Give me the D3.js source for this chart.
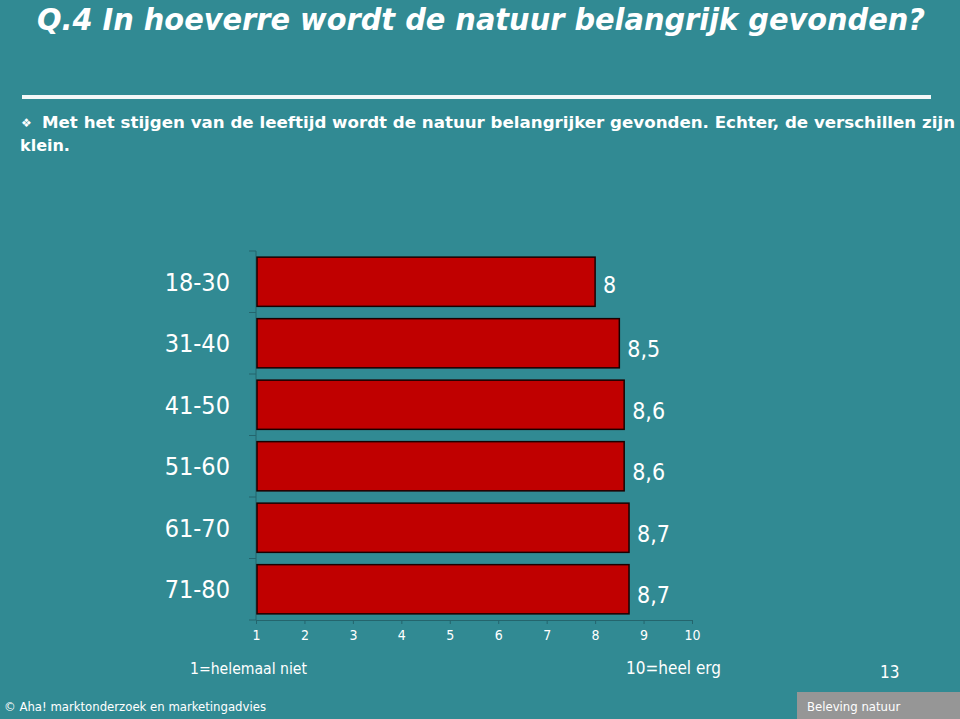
<!DOCTYPE html>
<html>
<head>
<meta charset="utf-8">
<script src="https://cdn.jsdelivr.net/npm/d3@7"></script>
<style>
  html, body { margin: 0; padding: 0; background: #318a93; }
  svg { display: block; }
</style>
</head>
<body>
<div id="container"></div>
<script>
const categories = ["18-30", "31-40", "41-50", "51-60", "61-70", "71-80"]
const values = [8.0, 8.5, 8.6, 8.6, 8.7, 8.7]
const tickValues = [1, 2, 3, 4, 5, 6, 7, 8, 9, 10]
const title = "Q.4 In hoeverre wordt de natuur belangrijk gevonden?"
const bullet = "Met het stijgen van de leeftijd wordt de natuur belangrijker gevonden. Echter, de verschillen zijn"
const bullet2 = "klein."

let w = 960
let h = 719
let cond = "'DejaVu Sans Condensed', 'DejaVu Sans', sans-serif"

let svg = d3.select("#container").append("svg")
    .attr("width", w)
    .attr("height", h)

svg.append("rect")
    .attr("width", w).attr("height", h)
    .attr("fill", "#318a93")

// title
svg.append("text")
    .text(title)
    .attr("x", 37).attr("y", 30)
    .attr("fill", "#ffffff")
    .attr("font-family", cond)
    .attr("font-weight", "bold")
    .attr("font-style", "italic")
    .attr("font-size", 30)
    .attr("textLength", 888)
    .attr("lengthAdjust", "spacingAndGlyphs")

svg.append("rect")
    .attr("x", 22).attr("y", 95)
    .attr("width", 909).attr("height", 4)
    .attr("fill", "#f4f8f8")

svg.append("text")
    .text("\u2756")
    .attr("x", 21).attr("y", 127)
    .attr("fill", "#ffffff")
    .attr("font-family", "DejaVu Sans")
    .attr("font-size", 12)

svg.append("text")
    .text(bullet)
    .attr("x", 42).attr("y", 128)
    .attr("fill", "#ffffff")
    .attr("font-family", "'DejaVu Sans', Verdana, sans-serif")
    .attr("font-weight", "bold")
    .attr("font-size", 16)
    .attr("textLength", 913)
    .attr("lengthAdjust", "spacingAndGlyphs")

svg.append("text")
    .text(bullet2)
    .attr("x", 20).attr("y", 151)
    .attr("fill", "#ffffff")
    .attr("font-family", "'DejaVu Sans', Verdana, sans-serif")
    .attr("font-weight", "bold")
    .attr("font-size", 16)

// chart
let x = d3.scaleLinear().domain([1, 10]).range([256, 692])
let y = d3.scaleBand().domain(categories).range([251, 620])
    .paddingInner(0.2).paddingOuter(0.1)

let axisColor = "#24656d"

// y axis line + ticks at band boundaries
let boundaries = categories.map(c => y(c) - y.step() * y.paddingInner() / 2)
boundaries.push(620)
svg.append("line")
    .attr("x1", x(1)).attr("x2", x(1))
    .attr("y1", 251).attr("y2", 620)
    .attr("stroke", axisColor).attr("stroke-width", 1)
svg.selectAll(".ytick").data(boundaries).join("line")
    .attr("class", "ytick")
    .attr("x1", x(1) - 7).attr("x2", x(1))
    .attr("y1", d => d).attr("y2", d => d)
    .attr("stroke", axisColor)

// x axis
let xAxis = d3.axisBottom(x).tickValues(tickValues).tickSize(4).tickSizeOuter(0).tickPadding(6)
let gx = svg.append("g")
    .attr("transform", "translate(0,620)")
    .call(xAxis)
gx.select(".domain").attr("stroke", axisColor)
gx.selectAll(".tick line").attr("stroke", axisColor)
gx.selectAll(".tick text")
    .attr("fill", "#ffffff")
    .attr("font-family", cond)
    .attr("font-size", 14)

// bars
svg.selectAll(".bar").data(values).join("rect")
    .attr("class", "bar")
    .attr("x", x(1) + 1)
    .attr("y", (d, i) => y(categories[i]))
    .attr("width", d => x(d) - x(1) - 1)
    .attr("height", y.bandwidth())
    .attr("fill", "#c00000")
    .attr("stroke", "#1a0000")
    .attr("stroke-width", 1.5)

// category labels
svg.selectAll(".cat").data(categories).join("text")
    .attr("class", "cat")
    .text(d => d)
    .attr("x", 230)
    .attr("y", d => y(d) + y.bandwidth() / 2 + 9)
    .attr("text-anchor", "end")
    .attr("fill", "#ffffff")
    .attr("font-family", cond)
    .attr("font-size", 25)

// value labels
svg.selectAll(".val").data(values).join("text")
    .attr("class", "val")
    .text(d => String(d).replace(".", ","))
    .attr("x", d => x(d) + 8)
    .attr("y", (d, i) => y(categories[i]) + y.bandwidth() / 2 + 11 + (i > 0 ? 3 : 0))
    .attr("fill", "#ffffff")
    .attr("font-family", cond)
    .attr("font-size", 23)

// scale notes
svg.append("text")
    .text("1=helemaal niet")
    .attr("x", 190).attr("y", 674)
    .attr("fill", "#ffffff")
    .attr("font-family", cond)
    .attr("font-size", 16)
    .attr("textLength", 117)
    .attr("lengthAdjust", "spacingAndGlyphs")

svg.append("text")
    .text("10=heel erg")
    .attr("x", 626).attr("y", 674)
    .attr("fill", "#ffffff")
    .attr("font-family", cond)
    .attr("font-size", 17)

svg.append("text")
    .text("13")
    .attr("x", 880).attr("y", 678)
    .attr("fill", "#ffffff")
    .attr("font-family", cond)
    .attr("font-size", 17)

// footer
svg.append("text")
    .text("\u00a9 Aha! marktonderzoek en marketingadvies")
    .attr("x", 4).attr("y", 711)
    .attr("fill", "#ffffff")
    .attr("font-family", cond)
    .attr("font-size", 13)

svg.append("rect")
    .attr("x", 797).attr("y", 692)
    .attr("width", 163).attr("height", 27)
    .attr("fill", "#969696")

svg.append("text")
    .text("Beleving natuur")
    .attr("x", 807).attr("y", 711)
    .attr("fill", "#ffffff")
    .attr("font-family", cond)
    .attr("font-size", 13)
</script>
</body>
</html>
